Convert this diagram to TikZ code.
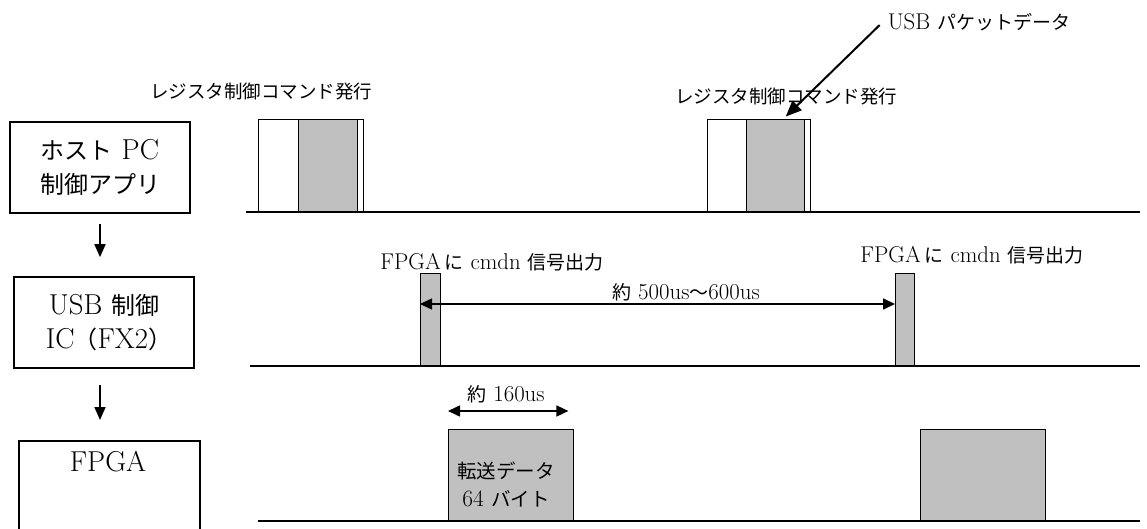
\documentclass[tikz,border=0pt]{standalone}
\usepackage{fontspec}
\setmainfont{Latin Modern Roman}[Scale=1.2]
\newfontfamily\jp{Noto Sans CJK JP}
\usetikzlibrary{arrows.meta}
\definecolor{pulsegray}{RGB}{192,192,192}
\begin{document}
\begin{tikzpicture}[x=1pt,y=-1pt,
  blk/.style={draw, line width=1.6pt, inner sep=0pt, align=center, font=\fontsize{24}{38}\selectfont},
  pw/.style={draw, line width=1.4pt, fill=white, inner sep=0pt, anchor=south west},
  pg/.style={draw, line width=1.4pt, fill=pulsegray, inner sep=0pt, anchor=south west},
  tline/.style={line width=1.6pt},
  flow/.style={line width=1.6pt, -{Triangle[length=13pt,width=11pt]}},
  dbl/.style={line width=1.6pt, {Triangle[length=12pt,width=11pt]}-{Triangle[length=12pt,width=11pt]}},
  big/.style={line width=2pt, -{Triangle[length=16pt,width=13pt]}},
  lbl/.style={inner sep=0pt, font=\fontsize{19}{22}\selectfont},
  slbl/.style={inner sep=0pt, font=\fontsize{18.5}{22}\selectfont\jp}
]
\useasboundingbox (0,0) rectangle (1147,529);
\clip (0,0) rectangle (1147,529);

% left column
\node[blk, minimum width=180, minimum height=91] (host) at (100,167.5)
  {{\jp ホスト} PC\\[-4pt]{\jp 制御アプリ}};
\node[blk, minimum width=180, minimum height=91] (usb) at (104,322.5)
  {USB {\jp 制御}\\[-4pt]IC\kern-1pt{\jp （}FX2{\jp ）}\kern-10pt};
\node[draw, line width=1.6pt, inner sep=0pt, minimum width=181, minimum height=160, anchor=north west] (fpga) at (18,440) {};
\node[inner sep=0pt, font=\fontsize{24}{28}\selectfont] (fpgat) at (108,462) {FPGA};
\draw[flow] ([yshift=-10pt]host.south) -- ([yshift=19pt]host.south |- usb.north);
\draw[flow] ([xshift=-4pt,yshift=-16pt]usb.south) -- ([xshift=-4pt,yshift=20pt]usb.south |- fpga.north);

% host timeline
\node[pw, minimum width=40, minimum height=92] (w1) at (258,212) {};
\node[pg, minimum width=59, minimum height=92] (g1) at (298,212) {};
\node[pw, minimum width=6, minimum height=92] (s1) at (357,212) {};
\node[pw, minimum width=39, minimum height=92] (w2) at (707,212) {};
\node[pg, minimum width=58, minimum height=92] (g2) at (746,212) {};
\node[pw, minimum width=6, minimum height=92] (s2) at (804,212) {};
\coordinate (l1a) at (246,212);
\coordinate (l1b) at (1140,212);
\draw[tline] (l1a) -- (l1b);
\node[slbl] (reg1) at (261,92) {レジスタ制御コマンド発行};
\node[slbl] (reg2) at (786,97) {レジスタ制御コマンド発行};
\node[lbl] (pkt) at (979,22) {USB {\jp パケットデータ}};
\draw[big] ([xshift=-8pt,yshift=-3pt]pkt.west) -- ([xshift=10pt,yshift=2pt]g2.north);

% USB timeline
\node[pg, minimum width=20, minimum height=92] (c1) at (420,366) {};
\node[pg, minimum width=19, minimum height=92] (c2) at (895,366) {};
\coordinate (l2a) at (250,366);
\coordinate (l2b) at (1140,366);
\draw[tline] (l2a) -- (l2b);
\node[lbl] (cmd1) at (492,262) {FPGA\,{\jp に} cmdn {\jp 信号出力}};
\node[lbl] (cmd2) at (972,255) {FPGA\,{\jp に} cmdn {\jp 信号出力}};
\coordinate (ya) at (0,304);
\draw[dbl] (c1.west |- ya) -- (c2.west |- ya);
\node[lbl] (t500) at (686,292) {{\jp 約} 500us{\jp 〜}600us};

% FPGA timeline
\node[pg, minimum width=125, minimum height=91] (d1) at (448,521) {};
\node[pg, minimum width=125, minimum height=91] (d2) at (920,521) {};
\node[inner sep=0pt, align=center, font=\fontsize{19.5}{28}\selectfont] (d1t) at (506,484)
  {{\jp 転送データ}\\64 {\jp バイト}};
\coordinate (l3a) at (258,521);
\coordinate (l3b) at (1140,521);
\draw[tline] (l3a) -- (l3b);
\coordinate (yb) at (0,411);
\draw[dbl] (d1.west |- yb) -- ([xshift=-6pt]d1.east |- yb);
\node[lbl] (t160) at (506,394) {{\jp 約} 160us};
\end{tikzpicture}
\end{document}
